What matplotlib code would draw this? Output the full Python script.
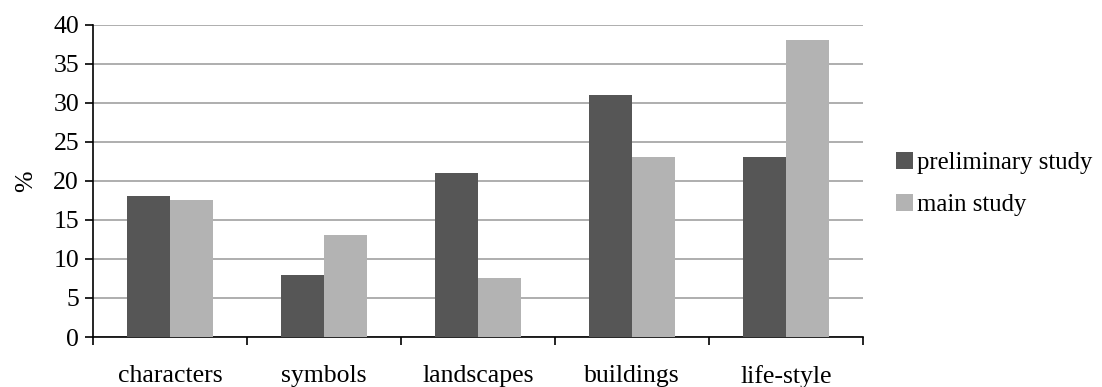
import matplotlib
matplotlib.use("Agg")
import matplotlib.pyplot as plt
import numpy as np

categories = ["characters", "symbols", "landscapes", "buildings", "life-style"]
preliminary = [18, 8, 21, 31, 23]
main = [17.5, 13, 7.5, 23, 38]
series_names = ["preliminary study", "main study"]
yticks = [0, 5, 10, 15, 20, 25, 30, 35, 40]

plt.rcParams['font.family'] = ['Liberation Serif']
FS = 18.5

fig = plt.figure(figsize=(11.02, 3.87), dpi=100)
ax = fig.add_axes([93/1102, 1-337/387, (863-93)/1102, (337-24.5)/387])

x = np.arange(len(categories))
w = 0.28
ax.bar(x - w/2, preliminary, w, color="#565656", label=series_names[0], zorder=3)
ax.bar(x + w/2, main, w, color="#b3b3b3", label=series_names[1], zorder=3)

ax.set_xlim(-0.5, len(categories) - 0.5)
ax.set_ylim(0, 40)
ax.set_yticks(yticks)
ax.set_yticklabels([str(v) for v in yticks], fontsize=FS)
ax.yaxis.grid(True, color="#a8a8a8", linewidth=1.3, zorder=0)
ax.set_axisbelow(True)

ax.set_xticks(x)
ax.set_xticklabels(categories, fontsize=FS)
ax.tick_params(axis='x', which='major', length=0, pad=20)
ax.set_xticks(np.arange(-0.5, len(categories)), minor=True)
ax.tick_params(axis='x', which='minor', length=6, width=1.2, direction='out', color='black')
ax.tick_params(axis='y', length=6, width=1.2, direction='out', pad=4, color='black')

for s in ["top", "right"]:
    ax.spines[s].set_visible(False)
for s in ["left", "bottom"]:
    ax.spines[s].set_linewidth(1.2)
    ax.spines[s].set_color("black")

ax.set_ylabel("%", fontsize=FS, labelpad=12)

ax.legend(loc="center left", bbox_to_anchor=(1.03, 0.49), frameon=False, fontsize=17.8,
          handlelength=0.7, handleheight=0.7, handletextpad=0.15, labelspacing=0.8,
          borderaxespad=0)

fig.savefig("out.png", dpi=100)
